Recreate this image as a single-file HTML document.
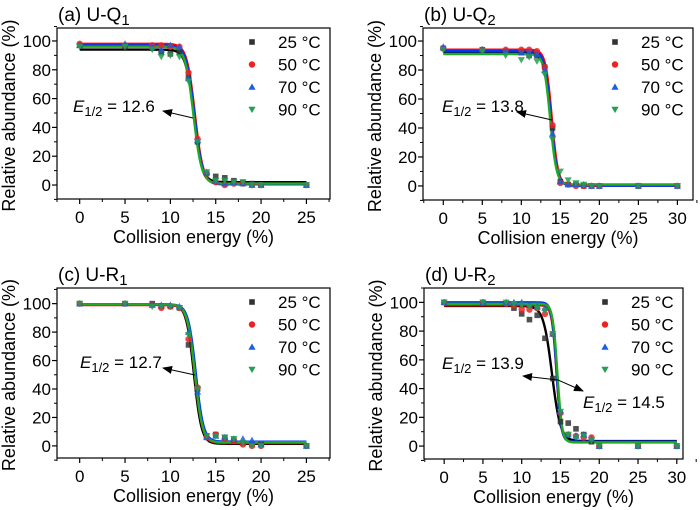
<!DOCTYPE html>
<html><head><meta charset="utf-8">
<style>
html,body{margin:0;padding:0;background:#fff;}
svg{display:block;font-family:"Liberation Sans",Arial,sans-serif;}
</style></head>
<body>
<svg id="fig" width="700" height="510" viewBox="0 0 700 510" xmlns="http://www.w3.org/2000/svg"></svg>
<script>
const NS="http://www.w3.org/2000/svg";
const fig=document.getElementById('fig');
const seriesNames=["25 °C","50 °C","70 °C","90 °C"];
const seriesColors=["#333333","#ee2222","#1a5fe0","#22a050"];
const lineColors=["#000000","#ff0000","#0033ff","#22aa22"];

// Panel (a)
const xA=[0,5,8,9,10,11,12,13,14,15,16,17,18,19,20,25];
const yA25=[97,96,95,92,91,92,75,30,8,6,5,3,2,1,0,0];
const yA50=[98,97,97,97,96,96,78,32,8,2,0,1,1,0,0,0];
const yA70=[97,98,96,94,97,96,74,31,9,3,1,2,1,0,0,0];
const yA90=[96,96,94,89,90,89,72,30,9,3,3,2,2,0,0,0];
const fitA=[[94,2,12.6,0.45],[98,0.5,12.7,0.45],[97,0.5,12.65,0.45],[96,1,12.55,0.45]];
// Panel (b)
const xB=[0,5,8,10,11,12,13,14,15,16,17,18,19,20,25,30];
const yB25=[95,94,93,92,90,90,82,40,3,1,1,0,0,0,0,0];
const yB50=[95,94,94,94,94,93,82,42,2,1,0,0,0,0,0,0];
const yB70=[96,94,93,92,92,91,80,36,3,1,1,1,0,0,0,0];
const yB90=[94,93,90,87,89,86,77,32,10,4,2,1,0,0,0,0];
const fitB=[[92,0.5,13.8,0.4],[94,0.2,13.9,0.4],[93,0.2,13.8,0.4],[91,1,13.7,0.4]];
// Panel (c)
const xC=[0,5,8,9,10,11,12,13,14,15,16,17,18,19,20,25];
const yC25=[100,100,100,98,98,97,71,40,7,8,6,4,2,1,1,0];
const yC50=[100,100,99,97,98,97,75,41,6,8,5,4,1,0,0,0];
const yC70=[100,100,99,99,99,98,80,38,6,7,6,5,5,4,1,0];
const yC90=[100,100,98,98,98,97,78,40,7,7,6,5,2,0,0,0];
const fitC=[[99.5,1.5,12.6,0.42],[99,2,12.7,0.42],[99.5,3,12.8,0.42],[99.5,2.5,12.7,0.42]];
// Panel (d)
const xD=[0,5,8,9,10,11,12,13,14,15,16,17,18,19,20,25,30];
const yD25=[100,100,99,96,92,88,91,75,47,17,16,12,8,3,0,0,0];
const yD50=[100,100,99,98,95,95,96,92,78,23,8,7,6,6,0,0,0];
const yD70=[100,100,100,100,100,98,97,96,78,24,8,7,8,5,0,0,0];
const yD90=[100,100,100,99,98,97,96,94,78,24,8,6,7,4,0,0,0];
const fitD=[[97.5,3.5,13.9,0.55],[98,3,14.5,0.3],[100,3,14.5,0.3],[99,2.5,14.6,0.3]];

const panels=[
 {id:"a",label:"(a) U-Q",sub:"1",L:57,R:330,T:28,B:199,xmin:-2.5,xmax:27.6,ymin:-9.7,ymax:109,xticks:[0,5,10,15,20,25],x:xA,ys:[yA25,yA50,yA70,yA90],fit:fitA,
  ann:[{t:"12.6",tx:73,ty:112,ax1:193,ay1:118,ax2:163,ay2:111}]},
 {id:"b",label:"(b) U-Q",sub:"2",L:423,R:693,T:28,B:200,xmin:-2.6,xmax:32,ymin:-9.7,ymax:109,xticks:[0,5,10,15,20,25,30],x:xB,ys:[yB25,yB50,yB70,yB90],fit:fitB,
  ann:[{t:"13.8",tx:442,ty:112,ax1:552,ay1:120,ax2:517,ay2:112}]},
 {id:"c",label:"(c) U-R",sub:"1",L:57,R:330,T:288,B:458,xmin:-2.5,xmax:27.6,ymin:-8.5,ymax:111,xticks:[0,5,10,15,20,25],x:xC,ys:[yC25,yC50,yC70,yC90],fit:fitC,
  ann:[{t:"12.7",tx:80,ty:368,ax1:195,ay1:375,ax2:163,ay2:368}]},
 {id:"d",label:"(d) U-R",sub:"2",L:424,R:683,T:288,B:459,xmin:-2.6,xmax:30.8,ymin:-9,ymax:110,xticks:[0,5,10,15,20,25,30],x:xD,ys:[yD25,yD50,yD70,yD90],fit:fitD,
  ann:[{t:"13.9",tx:442,ty:369,ax1:558,ay1:380,ax2:523,ay2:376},{t:"14.5",tx:583,ty:408,ax1:558,ay1:380,ax2:583,ay2:391}]}
];

function mk(tag,attrs,parent){const e=document.createElementNS(NS,tag);for(const k in attrs)e.setAttribute(k,attrs[k]);(parent||fig).appendChild(e);return e;}

const defs=mk('defs',{});
const mkr=mk('marker',{id:'arr',markerWidth:'10',markerHeight:'8',refX:'9',refY:'4',orient:'auto',markerUnits:'userSpaceOnUse'},defs);
mk('path',{d:'M0,0 L10,4 L0,8 Z',fill:'#000'},mkr);

function marker(g,k,cx,cy,col){
  let e;
  if(k===0) e=mk('rect',{x:cx-2.8,y:cy-2.8,width:5.6,height:5.6,fill:col},g);
  else if(k===1) e=mk('circle',{cx:cx,cy:cy,r:3.2,fill:col},g);
  else if(k===2) e=mk('polygon',{points:`${cx},${cy-3.6} ${cx+3.6},${cy+2.8} ${cx-3.6},${cy+2.8}`,fill:col},g);
  else e=mk('polygon',{points:`${cx},${cy+3.6} ${cx+3.6},${cy-2.8} ${cx-3.6},${cy-2.8}`,fill:col},g);
  return e;
}

panels.forEach(p=>{
  const g=mk('g',{});
  
  
  const sx=v=>p.L+(v-p.xmin)/(p.xmax-p.xmin)*(p.R-p.L);
  const sy=v=>p.B-(v-p.ymin)/(p.ymax-p.ymin)*(p.B-p.T);
  const t=mk('text',{x:p.L+1,y:p.T-7,'font-size':'19',fill:'#000'},g);
  
  
  t.innerHTML=p.label+'<tspan font-size="15" dy="4">'+p.sub+'</tspan>';
  p.fit.forEach((f,k)=>{
    let d='';
    for(let i=0;i<=300;i++){const xv=p.x[0]+(p.x[p.x.length-1]-p.x[0])*i/300;
      const yv=f[1]+(f[0]-f[1])/(1+Math.exp((xv-f[2])/f[3]));
      d+=(i?'L':'M')+sx(xv).toFixed(2)+','+sy(yv).toFixed(2);}
    const pl=mk('path',{d:d,fill:'none',stroke:lineColors[k],'stroke-width':'2.4'},g);
    
    
  });
  p.ys.forEach((ys,k)=>{
    const sg=mk('g',{opacity:'0.85'},g);
    
    
    ys.forEach((v,i)=>{const m=marker(sg,k,sx(p.x[i]),sy(v),seriesColors[k]);
      
      });
  });
  const fr=mk('rect',{x:p.L,y:p.T,width:p.R-p.L,height:p.B-p.T,fill:'none',stroke:'#000','stroke-width':'1.2'},g);
  
  
  p.xticks.forEach(v=>{
    mk('line',{x1:sx(v),x2:sx(v),y1:p.B,y2:p.B+5,stroke:'#000','stroke-width':'1.2'},g);
    mk('line',{x1:sx(v+2.5),x2:sx(v+2.5),y1:p.B,y2:p.B+3,stroke:'#000','stroke-width':'1'},g);
    const tl=mk('text',{x:sx(v),y:p.B+24,'font-size':'17','text-anchor':'middle'},g);
    
    
    tl.textContent=v;
  });
  mk('line',{x1:sx(-2.5),x2:sx(-2.5),y1:p.B,y2:p.B+3,stroke:'#000','stroke-width':'1'},g);
  [0,20,40,60,80,100].forEach(v=>{
    mk('line',{x1:p.L-5,x2:p.L,y1:sy(v),y2:sy(v),stroke:'#000','stroke-width':'1.2'},g);
    mk('line',{x1:p.L-3,x2:p.L,y1:sy(v+10),y2:sy(v+10),stroke:'#000','stroke-width':'1'},g);
    const tl=mk('text',{x:p.L-6,y:sy(v)+6,'font-size':'17','text-anchor':'end'},g);
    
    
    tl.textContent=v;
  });
  mk('line',{x1:p.L-3,x2:p.L,y1:sy(-10+0.01),y2:sy(-10+0.01),stroke:'#000','stroke-width':'1'},g);
  const xt=mk('text',{x:(p.L+p.R)/2,y:p.B+44,'font-size':'18','text-anchor':'middle'},g);
  
  
  xt.textContent='Collision energy (%)';
  const yx=p.L-42, yc=(p.T+p.B)/2+2;
  const yt=mk('text',{x:yx,y:yc,'font-size':'18','text-anchor':'middle',transform:`rotate(-90 ${yx} ${yc})`},g);
  
  
  yt.textContent='Relative abundance (%)';
  seriesNames.forEach((n,k)=>{
    const ly=p.T+14+k*22.5;
    const lg=mk('g',{},g);
    
    
    marker(lg,k,p.R-78,ly,seriesColors[k]);
    const lt=mk('text',{x:p.R-52,y:ly+6,'font-size':'17'},lg);
    lt.textContent=n;
  });
  p.ann.forEach(a=>{
    const at=mk('text',{x:a.tx,y:a.ty,'font-size':'17'},g);
    
    
    at.innerHTML='<tspan font-style="italic">E</tspan><tspan font-size="13" dy="4">1/2</tspan><tspan dy="-4"> = '+a.t+'</tspan>';
    const al=mk('line',{x1:a.ax1,y1:a.ay1,x2:a.ax2,y2:a.ay2,stroke:'#000','stroke-width':'1','marker-end':'url(#arr)'},g);
    
    
  });
});
</script>
</body></html>
